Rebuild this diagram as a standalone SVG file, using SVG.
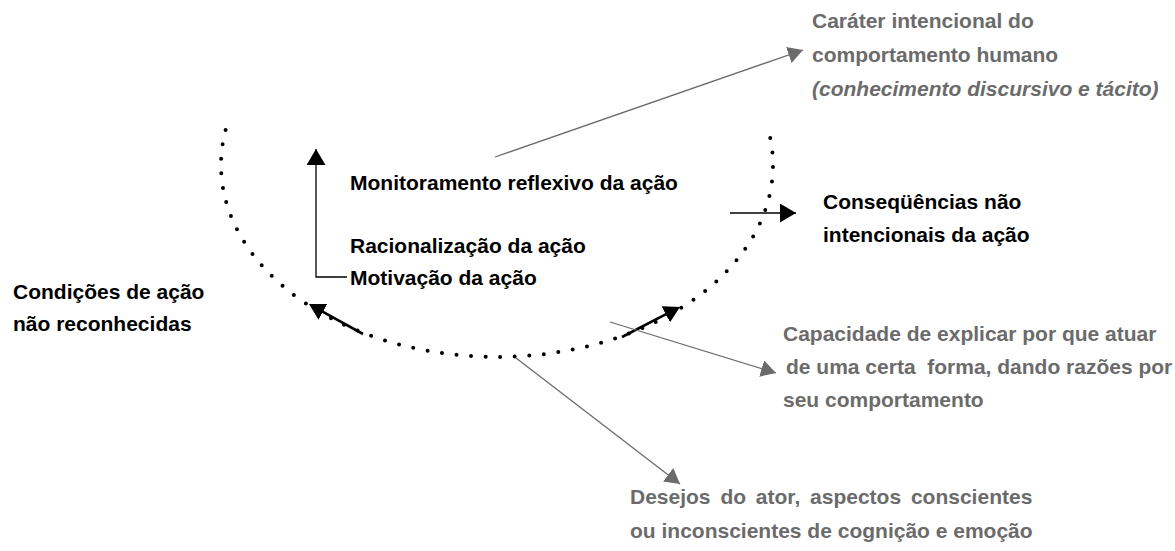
<svg xmlns="http://www.w3.org/2000/svg" width="1175" height="551" viewBox="0 0 1175 551">
<style>
.t{font-family:"Liberation Sans",Arial,sans-serif;font-size:21px;font-weight:bold}
.k{fill:#000}
.g{fill:#6b6b6b}
.i{font-style:italic}
.gl{stroke:#6b6b6b;stroke-width:1.3;fill:none}
.bl{stroke:#000;stroke-width:1.3;fill:none}
.thick{stroke:#000;stroke-width:2.6;fill:none}
</style>
<defs>
<marker id="ag" viewBox="0 0 15 17" refX="15" refY="8.5" markerWidth="15" markerHeight="17" markerUnits="userSpaceOnUse" orient="auto"><path d="M0,0 L15,8.5 L0,17 z" fill="#6b6b6b"/></marker>
<marker id="ab" viewBox="0 0 16 19" refX="16" refY="9.5" markerWidth="16" markerHeight="19" markerUnits="userSpaceOnUse" orient="auto"><path d="M0,0 L16,9.5 L0,19 z" fill="#000"/></marker>
<marker id="at" viewBox="0 0 16 18" refX="2" refY="9" markerWidth="16" markerHeight="18" markerUnits="userSpaceOnUse" orient="auto"><path d="M0,0 L16,9 L0,18 z" fill="#000"/></marker>
</defs>
<rect width="1175" height="551" fill="#fff"/>
<g id="cycle">
<path d="M 225.6 130 A 276 192 0 1 0 768.4 130" fill="none" stroke="#000" stroke-width="4" stroke-linecap="round" stroke-dasharray="0 14.6"/>
</g>
<g id="connectors">
<path class="bl" d="M347 277 H316 V149" marker-end="url(#ab)"/>
<path class="bl" d="M730 213 H796" marker-end="url(#ab)"/>
<path class="thick" d="M363 334 L321.2 310.8" marker-end="url(#at)"/>
<path class="thick" d="M622 337 L667.6 313.4" marker-end="url(#at)"/>
<path class="gl" d="M495 157 L803 50" marker-end="url(#ag)"/>
<path class="gl" d="M610 322 L776 373" marker-end="url(#ag)"/>
<path class="gl" d="M516 358 L680 484" marker-end="url(#ag)"/>
</g>
<g id="n-carater">
<text class="t g" x="812" y="28">Caráter intencional do</text>
<text class="t g" x="812" y="62">comportamento humano</text>
<text class="t g i" x="812" y="96">(conhecimento discursivo e tácito)</text>
</g>
<g id="n-monitoramento"><text class="t k" x="350" y="190">Monitoramento reflexivo da ação</text></g>
<g id="n-racionalizacao"><text class="t k" x="350" y="253">Racionalização da ação</text></g>
<g id="n-motivacao"><text class="t k" x="350" y="285">Motivação da ação</text></g>
<g id="n-condicoes">
<text class="t k" x="13" y="299">Condições de ação</text>
<text class="t k" x="13" y="331">não reconhecidas</text>
</g>
<g id="n-consequencias">
<text class="t k" x="823" y="209">Conseqüências não</text>
<text class="t k" x="823" y="242">intencionais da ação</text>
</g>
<g id="n-capacidade">
<text class="t g" x="783" y="341">Capacidade de explicar por que atuar</text>
<text class="t g" x="786" y="374" xml:space="preserve">de uma certa  forma, dando razões por</text>
<text class="t g" x="783" y="407">seu comportamento</text>
</g>
<g id="n-desejos">
<text class="t g" x="630" y="504" word-spacing="4">Desejos do ator, aspectos conscientes</text>
<text class="t g" x="630" y="538">ou inconscientes de cognição e emoção</text>
</g>
</svg>
